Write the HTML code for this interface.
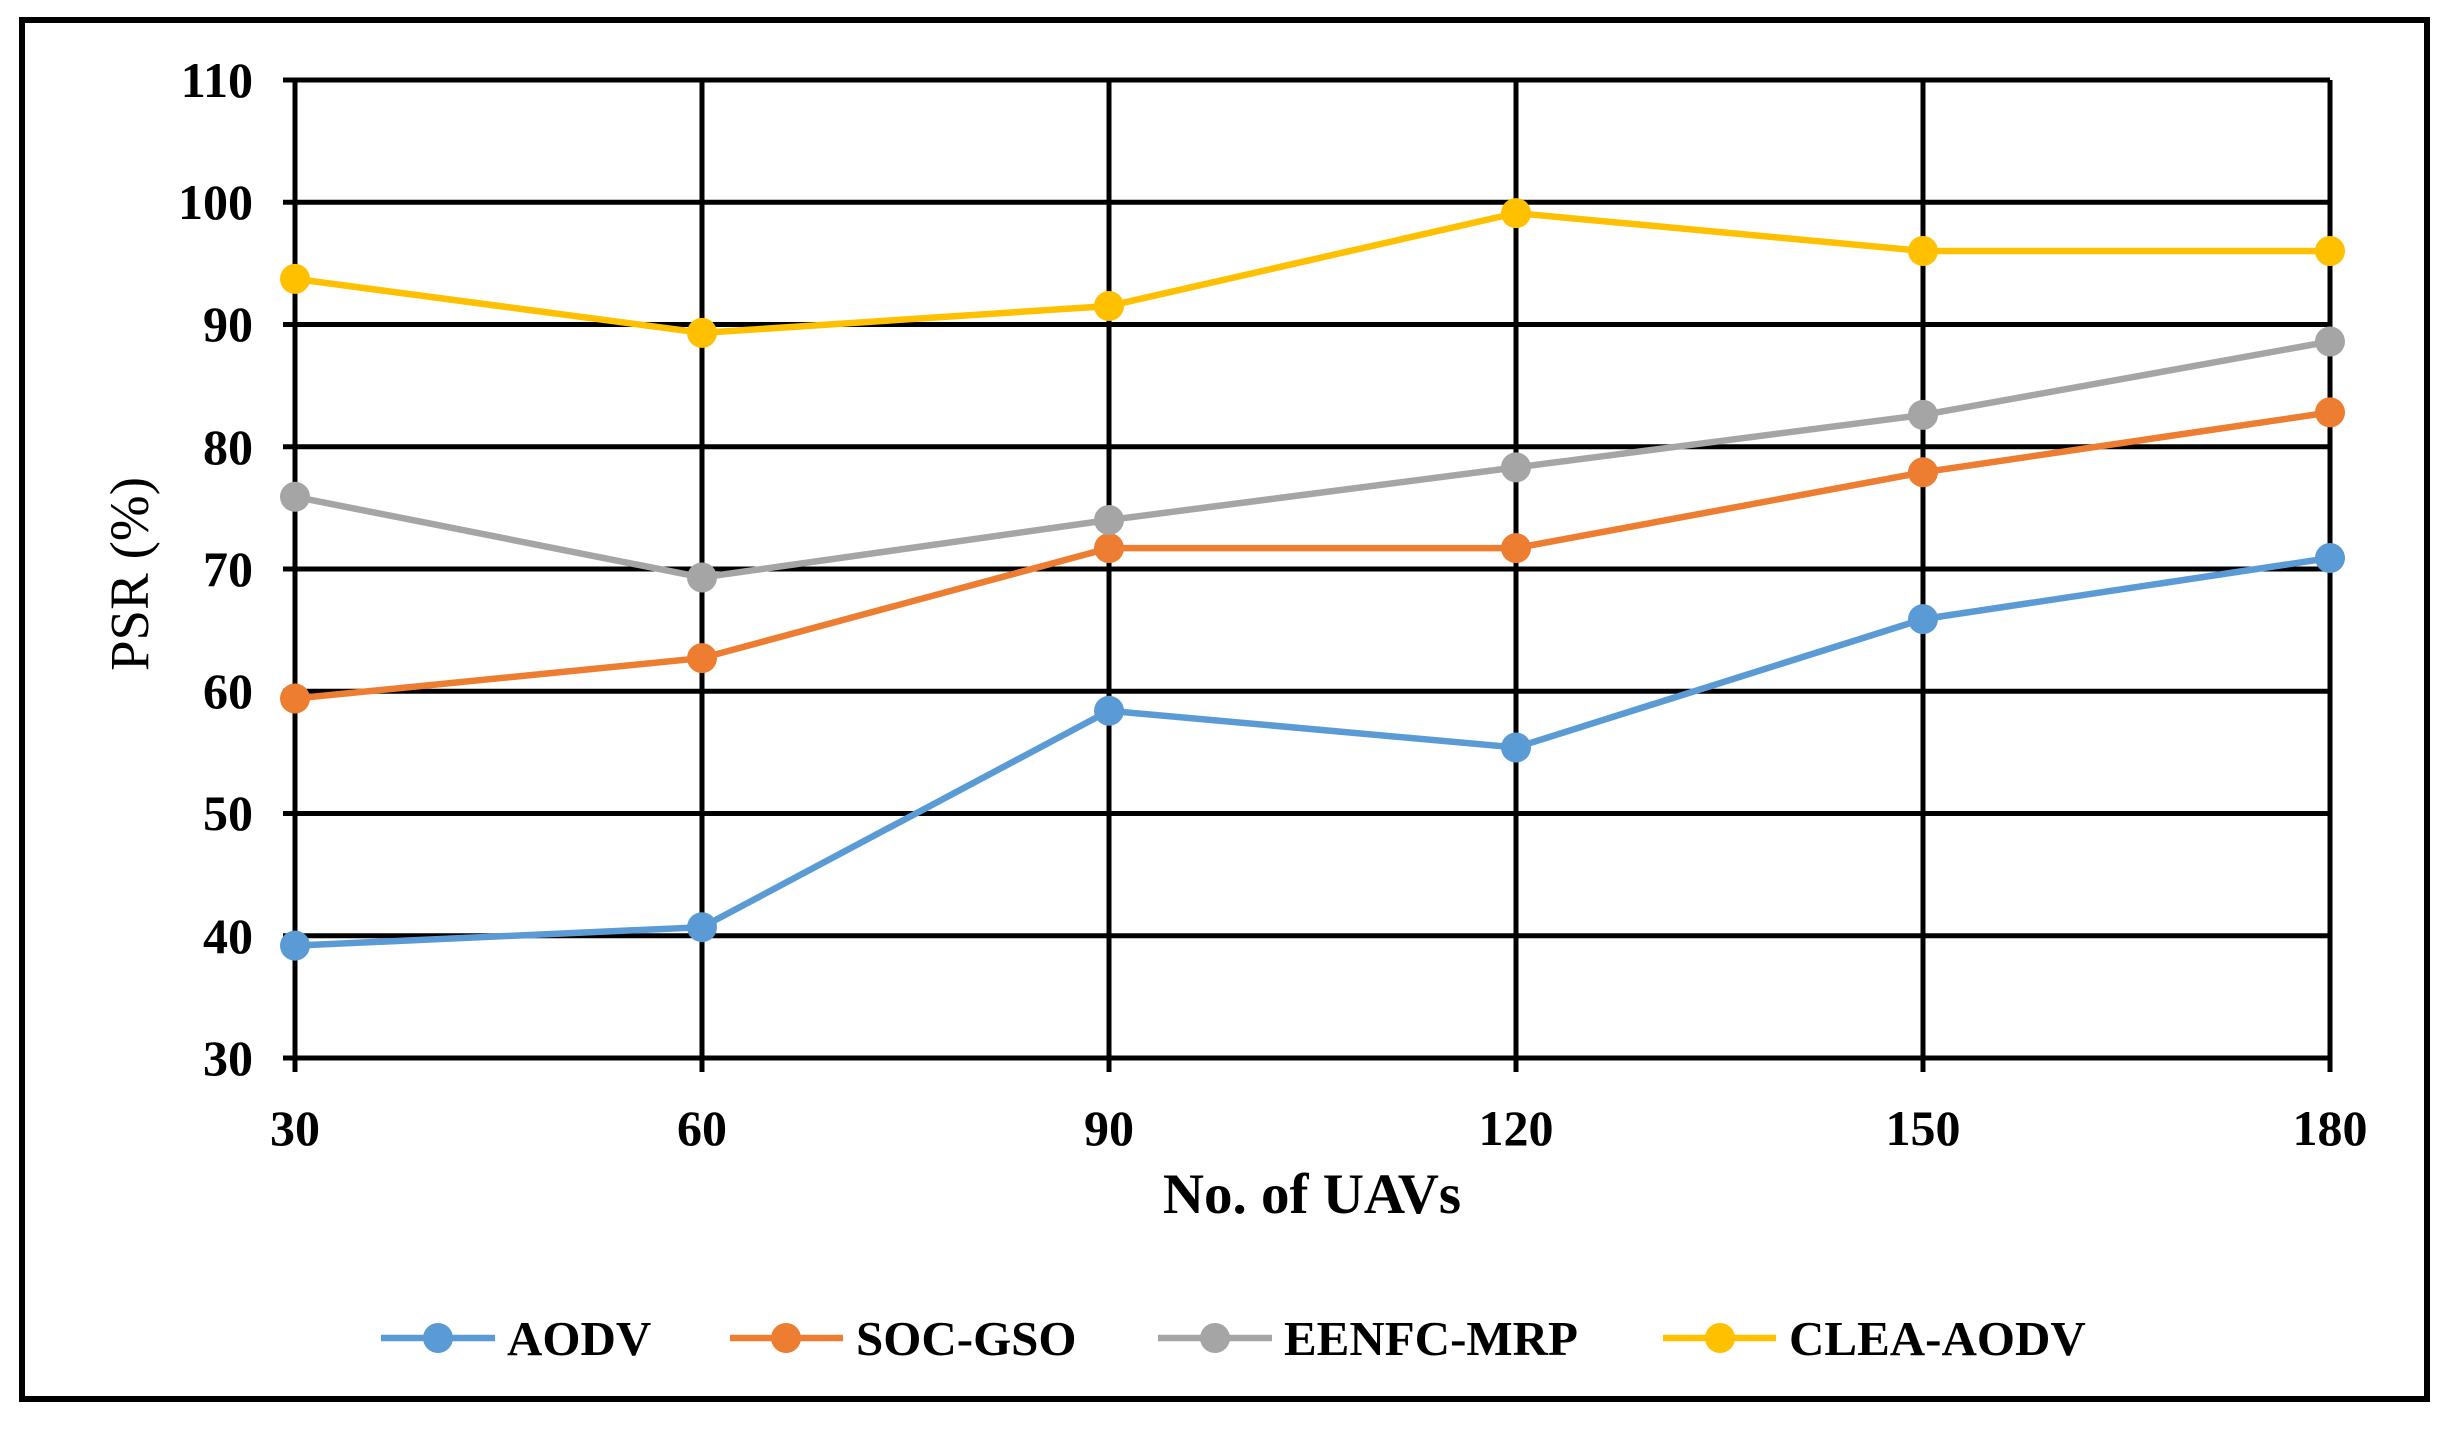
<!DOCTYPE html>
<html><head><style>body{margin:0;background:#fff}svg{display:block}</style></head><body>
<svg width="2459" height="1437" viewBox="0 0 2459 1437" xmlns="http://www.w3.org/2000/svg" font-family="Liberation Serif, serif">
<rect x="22" y="20" width="2405" height="1379" fill="#fff" stroke="#000" stroke-width="6"/>
<g stroke="#000" stroke-width="5">
<line x1="283" y1="80" x2="2330" y2="80"/><line x1="283" y1="202.2" x2="2330" y2="202.2"/><line x1="283" y1="324.5" x2="2330" y2="324.5"/><line x1="283" y1="446.8" x2="2330" y2="446.8"/><line x1="283" y1="569" x2="2330" y2="569"/><line x1="283" y1="691.2" x2="2330" y2="691.2"/><line x1="283" y1="813.5" x2="2330" y2="813.5"/><line x1="283" y1="935.8" x2="2330" y2="935.8"/><line x1="283" y1="1058" x2="2330" y2="1058"/>
<line x1="295" y1="80" x2="295" y2="1072"/><line x1="702" y1="80" x2="702" y2="1072"/><line x1="1109" y1="80" x2="1109" y2="1072"/><line x1="1516" y1="80" x2="1516" y2="1072"/><line x1="1923" y1="80" x2="1923" y2="1072"/><line x1="2330" y1="80" x2="2330" y2="1072"/>
</g>
<g font-size="50" font-weight="bold" text-anchor="end">
<text x="253" y="97">110</text><text x="253" y="219">100</text><text x="253" y="341">90</text><text x="253" y="464">80</text><text x="253" y="586">70</text><text x="253" y="708">60</text><text x="253" y="830">50</text><text x="253" y="953">40</text><text x="253" y="1075">30</text>
</g>
<g font-size="50" font-weight="bold" text-anchor="middle">
<text x="295" y="1145">30</text><text x="702" y="1145">60</text><text x="1109" y="1145">90</text><text x="1516" y="1145">120</text><text x="1923" y="1145">150</text><text x="2330" y="1145">180</text>
</g>
<text x="1312" y="1213" font-size="57" font-weight="bold" text-anchor="middle">No. of UAVs</text>
<text transform="translate(148,574) rotate(-90)" font-size="55" text-anchor="middle">PSR (%)</text>
<g transform="translate(0,-5)">
<g fill="none" stroke-width="6.5">
<polyline stroke="#5B9BD5" points="295,950.6 702,932.2 1109,715.8 1516,752.5 1923,624.1 2330,563"/>
<polyline stroke="#ED7D31" points="295,703.5 702,663.1 1109,553.1 1516,553.1 1923,477.3 2330,417.4"/>
<polyline stroke="#A5A5A5" points="295,501.8 702,582.5 1109,525 1516,472.4 1923,419.9 2330,346.5"/>
<polyline stroke="#FFC000" points="295,283.9 702,337.9 1109,311 1516,218.1 1923,256 2330,256"/>
</g>
<g fill="#5B9BD5"><circle cx="295" cy="950.6" r="15"/><circle cx="702" cy="932.2" r="15"/><circle cx="1109" cy="715.8" r="15"/><circle cx="1516" cy="752.5" r="15"/><circle cx="1923" cy="624.1" r="15"/><circle cx="2330" cy="563" r="15"/></g>
<g fill="#ED7D31"><circle cx="295" cy="703.5" r="15"/><circle cx="702" cy="663.1" r="15"/><circle cx="1109" cy="553.1" r="15"/><circle cx="1516" cy="553.1" r="15"/><circle cx="1923" cy="477.3" r="15"/><circle cx="2330" cy="417.4" r="15"/></g>
<g fill="#A5A5A5"><circle cx="295" cy="501.8" r="15"/><circle cx="702" cy="582.5" r="15"/><circle cx="1109" cy="525" r="15"/><circle cx="1516" cy="472.4" r="15"/><circle cx="1923" cy="419.9" r="15"/><circle cx="2330" cy="346.5" r="15"/></g>
<g fill="#FFC000"><circle cx="295" cy="283.9" r="15"/><circle cx="702" cy="337.9" r="15"/><circle cx="1109" cy="311" r="15"/><circle cx="1516" cy="218.1" r="15"/><circle cx="1923" cy="256" r="15"/><circle cx="2330" cy="256" r="15"/></g>
</g>
<g stroke-width="6.5">
<line x1="381" y1="1338" x2="495" y2="1338" stroke="#5B9BD5"/><circle cx="438" cy="1338" r="15" fill="#5B9BD5"/>
<line x1="730" y1="1338" x2="843" y2="1338" stroke="#ED7D31"/><circle cx="786" cy="1338" r="15" fill="#ED7D31"/>
<line x1="1158" y1="1338" x2="1272" y2="1338" stroke="#A5A5A5"/><circle cx="1215" cy="1338" r="15" fill="#A5A5A5"/>
<line x1="1663" y1="1338" x2="1776" y2="1338" stroke="#FFC000"/><circle cx="1720" cy="1338" r="15" fill="#FFC000"/>
</g>
<g font-size="49" font-weight="bold">
<text x="507" y="1355">AODV</text><text x="856" y="1355">SOC-GSO</text><text x="1284" y="1355">EENFC-MRP</text><text x="1789" y="1355">CLEA-AODV</text>
</g>
</svg>
</body></html>
